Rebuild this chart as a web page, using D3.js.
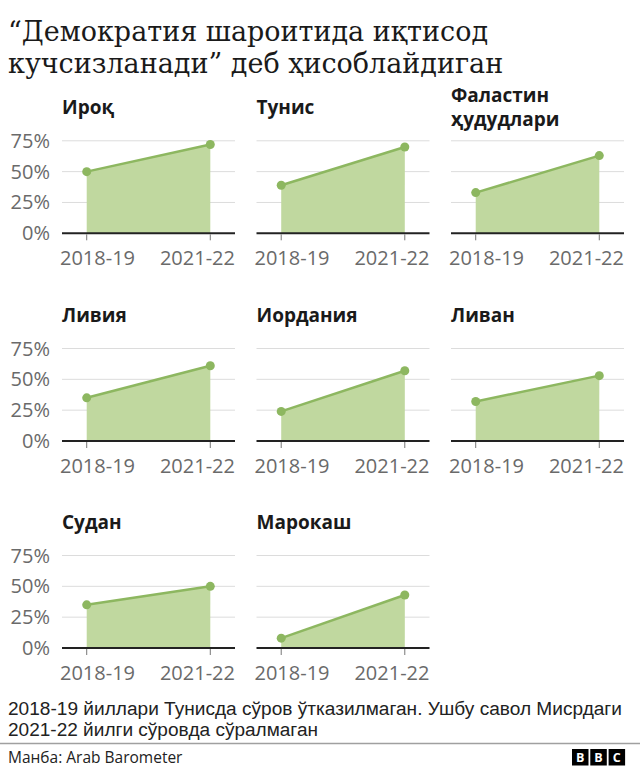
<!DOCTYPE html>
<html>
<head>
<meta charset="utf-8">
<script src="https://cdn.jsdelivr.net/npm/d3@7"></script>
<style>
  html, body { margin: 0; padding: 0; background: #fff; }
  svg { display: block; }
</style>
</head>
<body>
<svg id="chart" width="640" height="772"></svg>
<script>
// ---- data ----
const titleLines = ["“Демократия шароитида иқтисод", "кучсизланади” деб ҳисоблайдиган"];
const countries = ["Ироқ", "Тунис", "Фаластин\nҳудудлари", "Ливия", "Иордания", "Ливан", "Судан", "Марокаш"];
const periods = ["2018-19", "2021-22"];
const values2018 = [50, 39, 33, 35, 24, 32, 35, 8];
const values2021 = [72, 70, 63, 61, 57, 53, 50, 43];
const yTicks = [0, 25, 50, 75];
const yTickLabels = ["0%", "25%", "50%", "75%"];
const noteLines = ["2018-19 йиллари Тунисда сўров ўтказилмаган. Ушбу савол Мисрдаги", "2021-22 йилги сўровда сўралмаган"];
const sourceText = "Манба: Arab Barometer";

// ---- layout ----
const svg = d3.select("#chart");
const SANS = "'Open Sans', 'Noto Sans', sans-serif";
const colLeft = [62, 256.5, 451];
const rowAxis = [233.3, 441, 648];
const panelW = 173;
const plotH = 92.5;
const fillCol = "#c0d89f";
const lineCol = "#8db760";

// title
svg.append("g").selectAll("text").data(titleLines).join("text")
  .attr("x", 8)
  .attr("y", (d, i) => 41 + i * 32)
  .attr("font-family", "'DejaVu Serif', serif")
  .attr("font-size", 27)
  .attr("fill", "#1a1a1a")
  .text(d => d);

const y = d3.scaleLinear().domain([0, 75]).range([plotH, 0]);
const x = d3.scalePoint().domain(periods).range([0, panelW]).padding(0.2);

countries.forEach((name, i) => {
  const col = i % 3, row = Math.floor(i / 3);
  const left = colLeft[col], top = rowAxis[row] - plotH;
  const g = svg.append("g").attr("transform", `translate(${left},${top})`);
  const vals = [values2018[i], values2021[i]];
  const data = periods.map((p, k) => ({ p, v: vals[k] }));

  // panel title
  const lines = name.split("\n");
  const baseY = plotH - 119.5;
  g.append("g").selectAll("text").data(lines).join("text")
    .attr("x", 0)
    .attr("y", (d, k) => baseY + (k - (lines.length - 1) / 2) * 23.5)
    .attr("font-family", SANS)
    .attr("font-weight", 700)
    .attr("font-size", 19)
    .attr("fill", "#1a1a1a")
    .text(d => d);

  // gridlines
  g.append("g").selectAll("line").data(yTicks.filter(t => t > 0)).join("line")
    .attr("x1", 0).attr("x2", panelW)
    .attr("y1", d => y(d)).attr("y2", d => y(d))
    .attr("stroke", "#dcdcdc").attr("stroke-width", 1);

  // area
  g.append("path").datum(data)
    .attr("d", d3.area().x(d => x(d.p)).y0(y(0)).y1(d => y(d.v)))
    .attr("fill", fillCol);

  // line
  g.append("path").datum(data)
    .attr("d", d3.line().x(d => x(d.p)).y(d => y(d.v)))
    .attr("fill", "none").attr("stroke", lineCol).attr("stroke-width", 2.5);

  // points
  g.append("g").selectAll("circle").data(data).join("circle")
    .attr("cx", d => x(d.p)).attr("cy", d => y(d.v)).attr("r", 4.5)
    .attr("fill", lineCol);

  // x axis baseline + ticks
  g.append("line").attr("x1", 0).attr("x2", panelW)
    .attr("y1", y(0)).attr("y2", y(0))
    .attr("stroke", "#222").attr("stroke-width", 2);
  g.append("g").selectAll("line").data(periods).join("line")
    .attr("x1", d => x(d)).attr("x2", d => x(d))
    .attr("y1", y(0) + 1).attr("y2", y(0) + 7)
    .attr("stroke", "#777").attr("stroke-width", 1);

  // x labels (clamped inside panel)
  g.append("g").selectAll("text").data(periods).join("text")
    .attr("x", (d, k) => k === 0 ? -2 : panelW)
    .attr("y", y(0) + 32)
    .attr("text-anchor", (d, k) => k === 0 ? "start" : "end")
    .attr("font-family", SANS)
    .attr("font-size", 20)
    .attr("fill", "#6a6a6a")
    .text(d => d);

  // y labels on first column
  if (col === 0) {
    g.append("g").selectAll("text").data(yTicks).join("text")
      .attr("x", -12)
      .attr("y", d => y(d))
      .attr("dy", "0.35em")
      .attr("text-anchor", "end")
      .attr("font-family", SANS)
      .attr("font-size", 20)
      .attr("fill", "#6a6a6a")
      .text((d, k) => yTickLabels[k]);
  }
});

// note
const noteWidths = [614, 310];
svg.append("g").selectAll("text").data(noteLines).join("text")
  .attr("x", 8)
  .attr("y", (d, i) => 715 + i * 20.5)
  .attr("font-family", "'Liberation Sans', Arial, sans-serif")
  .attr("font-size", 18)
  .attr("fill", "#222")
  .attr("textLength", (d, i) => noteWidths[i])
  .attr("lengthAdjust", "spacingAndGlyphs")
  .text(d => d);

// separator
svg.append("line").attr("x1", 0).attr("x2", 640).attr("y1", 743.5).attr("y2", 743.5)
  .attr("stroke", "#a0a0a0").attr("stroke-width", 1.5);

// source
svg.append("text").attr("x", 8).attr("y", 763)
  .attr("font-family", SANS).attr("font-size", 15.5).attr("fill", "#222")
  .text(sourceText);

// BBC logo
const logo = svg.append("g").attr("transform", "translate(572,749)");
["B", "B", "C"].forEach((c, i) => {
  logo.append("rect").attr("x", i * 18.3).attr("y", 0).attr("width", 16.5).attr("height", 16.5).attr("fill", "#000");
  logo.append("text").attr("x", i * 18.3 + 8.25).attr("y", 12.7).attr("text-anchor", "middle")
    .attr("font-family", SANS).attr("font-weight", 700).attr("font-size", 12.5).attr("fill", "#fff").text(c);
});
</script>
</body>
</html>
